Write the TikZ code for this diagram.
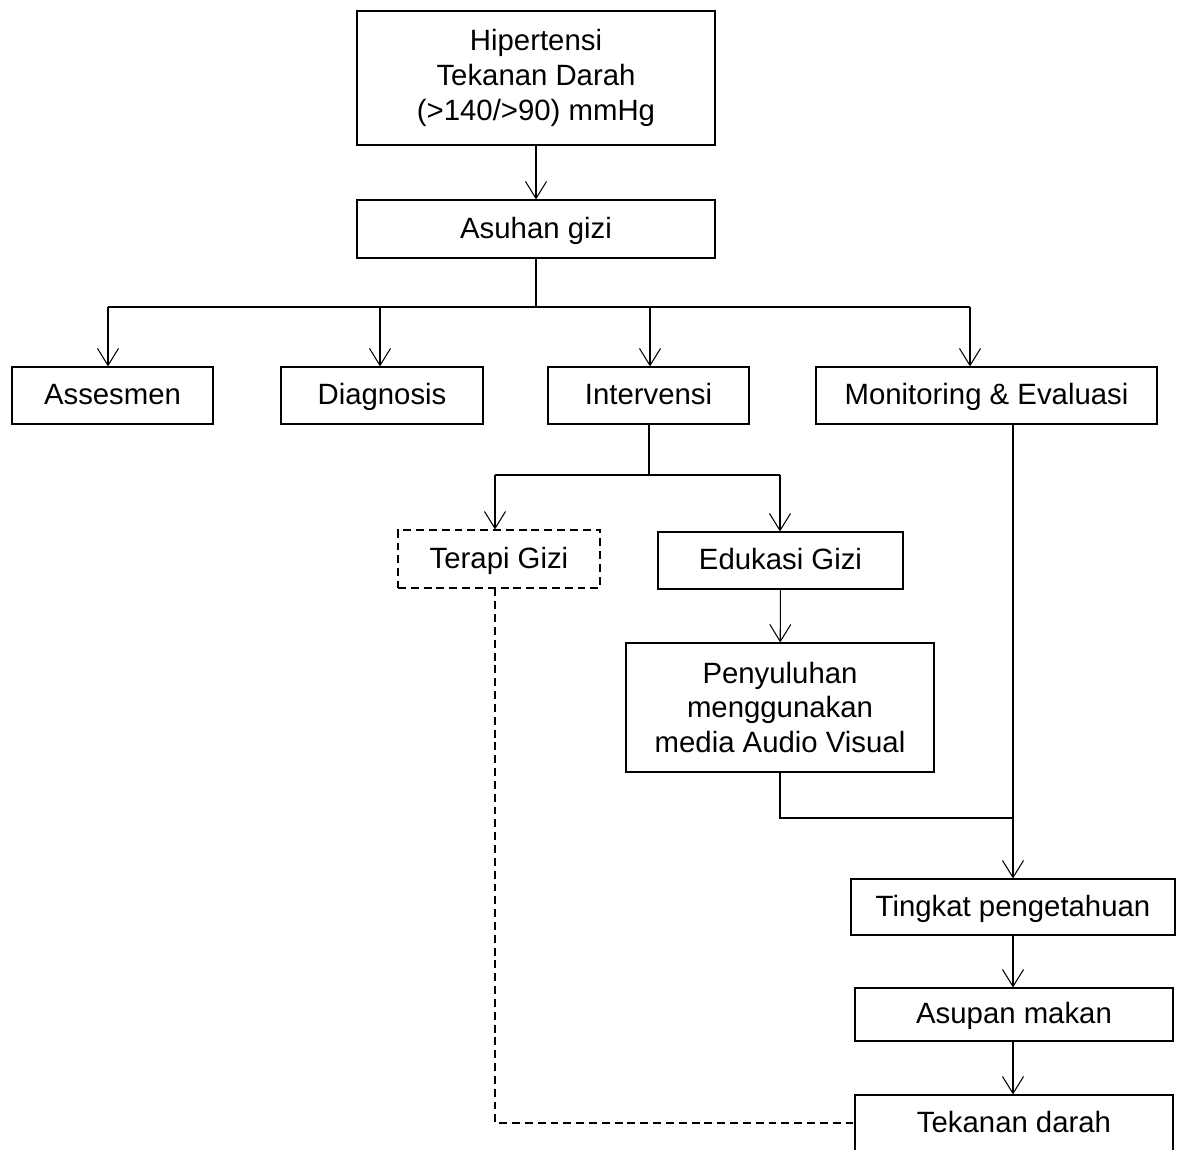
\documentclass[tikz,border=0pt]{standalone}
\usepackage{fontspec}
\setmainfont{Liberation Sans}
\usetikzlibrary{arrows.meta}

\begin{document}
\begin{tikzpicture}[x=0.02cm, y=-0.02cm,
    line width=0.6pt,
    >={Straight Barb[length=3.4mm, width=4.2mm]},
    kotak/.style={draw, rectangle, align=center, inner sep=0pt,
      font=\fontsize{16.7}{19.8}\selectfont},
    satu/.style={kotak, text height=14pt, text depth=3.6pt},
    putus/.style={dash pattern=on 4.5pt off 2.8pt}]

  % 1. Cadre de l'image
  \useasboundingbox (0,0) rectangle (1186,1149);

  % 2. Les boites
  \node[kotak, minimum width=358*0.02cm, minimum height=134*0.02cm] (hip) at (536,78)
    {Hipertensi\\Tekanan Darah\\(>140/>90) mmHg};
  \node[satu, minimum width=358*0.02cm, minimum height=58*0.02cm] (asuhan) at (536,229) {Asuhan gizi};

  \node[satu, minimum width=201*0.02cm, minimum height=57*0.02cm] (asses) at (112.5,395.5) {Assesmen};
  \node[satu, minimum width=202*0.02cm, minimum height=57*0.02cm] (diag) at (382,395.5) {Diagnosis};
  \node[satu, minimum width=201*0.02cm, minimum height=57*0.02cm] (interv) at (648.5,395.5) {Intervensi};
  \node[satu, minimum width=341*0.02cm, minimum height=57*0.02cm] (monev) at (986.5,395.5) {Monitoring \& Evaluasi};

  \node[satu, putus, minimum width=202*0.02cm, minimum height=58*0.02cm] (terapi) at (499,559) {Terapi Gizi};
  \node[satu, minimum width=245*0.02cm, minimum height=57*0.02cm] (edukasi) at (780.5,560.5) {Edukasi Gizi};
  \node[kotak, minimum width=308*0.02cm, minimum height=129*0.02cm] (penyul) at (780,707.5)
    {Penyuluhan\\menggunakan\\media Audio Visual};

  \node[satu, minimum width=324*0.02cm, minimum height=56*0.02cm] (tingkat) at (1013,907) {Tingkat pengetahuan};
  \node[satu, minimum width=318*0.02cm, minimum height=53*0.02cm] (asupan) at (1014,1014.5) {Asupan makan};
  \node[satu, minimum width=318*0.02cm, minimum height=56*0.02cm] (tekanan) at (1014,1123) {Tekanan darah};

  % 3. Points de branchement
  \coordinate (bus) at (536,307);
  \coordinate (dA) at (108,307);
  \coordinate (dD) at (380,307);
  \coordinate (dI) at (650,307);
  \coordinate (dM) at (970,307);
  \coordinate (iBus) at (649,475);
  \coordinate (dT) at (495,475);
  \coordinate (dE) at (780,475);
  \coordinate (gab) at (1013,818);
  \coordinate (mTop) at (1013,424);
  \coordinate (tBawah) at (495,1123);

  % 4. Les fleches
  \draw[->] (hip) -- (asuhan);
  \draw (asuhan) -- (bus);
  \draw (dA) -- (dM);
  \draw[->] (dA) -- (dA |- asses.north);
  \draw[->] (dD) -- (dD |- diag.north);
  \draw[->] (dI) -- (dI |- interv.north);
  \draw[->] (dM) -- (dM |- monev.north);

  \draw (interv.south -| iBus) -- (iBus);
  \draw (dT) -- (dE);
  \draw[->] (dT) -- (dT |- terapi.north);
  \draw[->] (dE) -- (dE |- edukasi.north);
  \draw[->] (edukasi) -- (penyul);

  \draw (penyul.south) |- (gab);
  \draw[->] (mTop) -- (tingkat.north);
  \draw[->] (tingkat) -- (tingkat |- asupan.north);
  \draw[->] (tingkat |- asupan.south) -- (tingkat |- tekanan.north);

  % 5. Ligne pointillee
  \draw[putus] (terapi.south -| dT) -- (tBawah) -- (tekanan.west);

\end{tikzpicture}
\end{document}
